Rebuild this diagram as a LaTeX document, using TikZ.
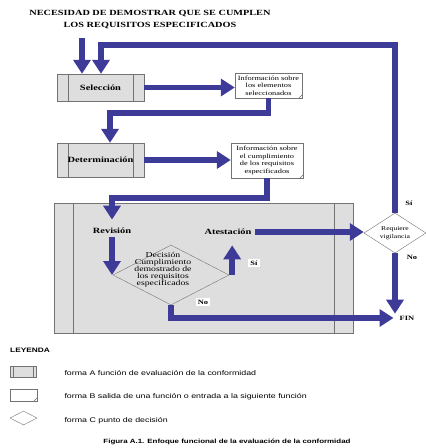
\documentclass[tikz,border=0pt]{standalone}
\usepackage{fontspec}
\setmainfont[FakeStretch=1.3]{Liberation Serif}
\setsansfont[FakeStretch=1.3]{Liberation Sans}
\usetikzlibrary{arrows.meta,shapes.geometric}

\begin{document}
\begin{tikzpicture}[x=1pt,y=-1pt]
  % Colors
  \definecolor{flowcolor}{RGB}{62,58,152}
  \colorlet{boxgray}{black!13}
  \colorlet{linegray}{black!55}

  % Styles
  \tikzstyle{flow}=[line width=5.5pt,draw=flowcolor,-{Triangle[width=17pt,length=14pt]}]
  \tikzstyle{title text}=[font=\bfseries\fontsize{7.9}{12}\selectfont,align=center]
  \tikzstyle{box text}=[font=\bfseries\fontsize{8}{9}\selectfont]
  \tikzstyle{info}=[draw=linegray,fill=white,align=center,inner sep=0pt,
    font=\fontsize{6.4}{7.6}\selectfont,
    path picture={\draw[linegray] ([xshift=-3pt]path picture bounding box.south east)
      -- ([yshift=3pt]path picture bounding box.south east);}]
  \tikzstyle{decision}=[diamond,aspect=1.6,draw=linegray,inner sep=0pt]
  \tikzstyle{tag}=[font=\bfseries\fontsize{6.5}{7}\selectfont,inner sep=2pt]
  \tikzstyle{legend text}=[font=\sffamily\fontsize{6.8}{7}\selectfont,anchor=west]
  \tikzset{funcion/.style={draw=linegray,fill=boxgray,inner sep=0pt,
    path picture={\draw[linegray]
      ([xshift=#1]path picture bounding box.north west) -- ([xshift=#1]path picture bounding box.south west)
      ([xshift=-#1]path picture bounding box.north east) -- ([xshift=-#1]path picture bounding box.south east);}}}

  \useasboundingbox (0,0) rectangle (426,448);

  % The graphic
  \node[title text] (titulo) at (150,20) {NECESIDAD DE DEMOSTRAR QUE SE CUMPLEN\\LOS REQUISITOS ESPECIFICADOS};

  \node[funcion=11pt,box text,minimum width=87pt,minimum height=27pt] (sel) at (100.5,87.5) {Selección};
  \node[info,minimum width=67pt,minimum height=25pt] (info1) at (268.5,85.5)
    {Información sobre\\los elementos\\seleccionados};
  \node[funcion=11pt,box text,minimum width=87pt,minimum height=34pt] (det) at (100.5,160) {Determinación};
  \node[info,minimum width=72pt,minimum height=35pt] (info2) at (267,160.5)
    {Información sobre\\el cumplimiento\\de los requisitos\\especificados};

  \node[funcion=19pt,minimum width=299pt,minimum height=130pt] (rev box) at (203.5,268) {};
  \node[box text] (rev) at (112,231) {Revisión};
  \node[box text] (ate) at (228,232) {Atestación};
  \node[decision,minimum width=116pt,minimum height=60pt] (dec) at (171,275) {};
  \node[font=\fontsize{7.5}{7}\selectfont,align=center] (dec text) at ([xshift=-8pt,yshift=5pt]dec.center)
    {Decisión\\Cumplimiento\\demostrado de\\los requisitos\\especificados};

  \node[decision,fill=white,minimum width=62pt,minimum height=40pt,
    font=\fontsize{5.9}{8}\selectfont,align=center] (req) at (395,233) {Requiere\\vigilancia};

  \node[tag,fill=white] (si dec) at (254,263) {Sí};
  \node[tag,fill=white] (no dec) at (203,302) {No};
  \node[tag] (si req) at (409,203) {Sí};
  \node[tag] (no req) at (412,257) {No};
  \node[tag] (fin) at (407,318) {FIN};

  % Connectors
  \coordinate (entrada) at (82,38);
  \coordinate (retorno) at (101,45);
  \coordinate (codo1) at (110,113);
  \coordinate (codo2) at (112,198);

  \draw[flow] (entrada) -- (entrada |- sel.north);
  \draw[flow] (req.north) |- (retorno) -- (retorno |- sel.north);
  \draw[flow] (sel.east) -- (sel.east -| info1.west);
  \draw[flow] (info1.south) |- (codo1) -- (codo1 |- det.north);
  \draw[flow] (det.east) -- (det.east -| info2.west);
  \draw[flow,shorten >=5pt] (info2.south) |- (codo2) -- (codo2 |- rev.north);
  \draw[flow] (rev.south) -- (rev.south |- dec.west);
  \draw[flow,shorten >=7pt] ([xshift=3pt]dec.east) -- ([xshift=3pt]dec.east |- ate.south);
  \draw[flow] (ate.east) -- (ate.east -| req.west);
  \draw[flow] (req.south) -- (req.south |- fin.north);
  \draw[flow,shorten >=4pt] (dec.south) |- (fin.west);

  % Legend
  \node[font=\sffamily\bfseries\fontsize{6.4}{7}\selectfont,anchor=west,inner sep=0pt] (leyenda) at (10,350) {LEYENDA};
  \node[funcion=3pt,minimum width=26pt,minimum height=11pt] (forma a) at (23,371.5) {};
  \node[info,minimum width=27pt,minimum height=12pt] (forma b) at (23.5,395) {};
  \node[decision,fill=white,minimum width=27pt,minimum height=14pt] (forma c) at (23.5,418) {};
  \node[legend text] (texto a) at (61,373) {forma A función de evaluación de la conformidad};
  \node[legend text] (texto b) at (61,397) {forma B salida de una función o entrada a la siguiente función};
  \node[legend text] (texto c) at (61,421) {forma C punto de decisión};
  \node[font=\sffamily\bfseries\fontsize{6.1}{7}\selectfont] (figura) at (227,442)
    {Figura A.1. Enfoque funcional de la evaluación de la conformidad};
\end{tikzpicture}
\end{document}
